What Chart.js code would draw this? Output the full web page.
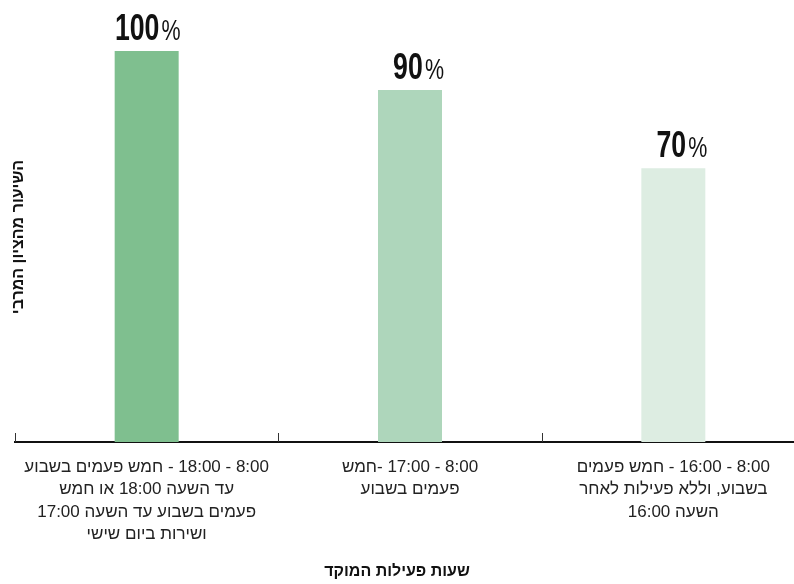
<!DOCTYPE html>
<html lang="he">
<head>
<meta charset="utf-8">
<title>שעות פעילות המוקד</title>
<script src="https://cdn.jsdelivr.net/npm/chart.js@4.4.1/dist/chart.umd.min.js"></script>
<style>
  html, body { margin: 0; padding: 0; background: #fff; overflow: hidden; }
  #wrap { width: 811px; height: 584px; }
  canvas { direction: rtl; }
</style>
</head>
<body>
<div id="wrap">
  <canvas id="chart" width="811" height="584" dir="rtl"></canvas>
</div>
<script>
// data
const categories = [
  ["8:00 - 18:00 - חמש פעמים בשבוע", "עד השעה 18:00 או חמש", "פעמים בשבוע עד השעה 17:00", "ושירות ביום שישי"],
  ["8:00 - 17:00 -חמש", "פעמים בשבוע"],
  ["8:00 - 16:00 - חמש פעמים", "בשבוע, וללא פעילות לאחר", "השעה 16:00"],
];
const scores = [100, 90, 70];
const barColors = ["#7fbf8f", "#aed6bb", "#ddede2"];
const xTitle = "שעות פעילות המוקד";
const yTitle = "השיעור מהציון המרבי";

const FONT = '"Liberation Sans", Arial, sans-serif';
const SQUEEZE = 0.74; // condensed look for the big value labels

// value labels, tick marks and axis titles
const extras = {
  id: "extras",
  afterDatasetsDraw(chart) {
    const ctx = chart.ctx;
    const meta = chart.getDatasetMeta(0);
    meta.data.forEach((bar, i) => {
      const right = bar.x + bar.width / 2 + 2;
      const baseY = bar.y - 11;
      ctx.save();
      ctx.direction = "ltr";
      ctx.fillStyle = "#111";
      ctx.textBaseline = "alphabetic";
      ctx.translate(right, baseY);
      ctx.scale(SQUEEZE, 1);
      ctx.font = "29px " + FONT;
      const pctW = ctx.measureText("%").width;
      ctx.textAlign = "right";
      ctx.fillText("%", 0, 0);
      ctx.font = "bold 36px " + FONT;
      ctx.fillText(String(scores[i]), -pctW - 3, 0);
      ctx.restore();
    });
  },
  afterDraw(chart) {
    const ctx = chart.ctx;
    const x = chart.scales.x;
    const area = chart.chartArea;
    const step = x.getPixelForValue(1) - x.getPixelForValue(0);

    // small upward ticks between the categories
    ctx.save();
    ctx.strokeStyle = "#333";
    ctx.lineWidth = 1;
    for (let i = 0; i <= categories.length; i++) {
      const px = Math.round(x.getPixelForValue(0) - step / 2 + i * step) + 0.5;
      ctx.beginPath();
      ctx.moveTo(px, area.bottom - 9);
      ctx.lineTo(px, area.bottom);
      ctx.stroke();
    }

    // axis titles
    ctx.fillStyle = "#111";
    ctx.font = "bold 16px " + FONT;
    ctx.textAlign = "center";
    ctx.textBaseline = "middle";
    ctx.fillText(xTitle, 397, 572);

    ctx.translate(19, 237);
    ctx.rotate(-Math.PI / 2);
    ctx.fillText(yTitle, 0, 0);
    ctx.restore();
  }
};

new Chart(document.getElementById("chart"), {
  type: "bar",
  data: {
    labels: categories,
    datasets: [{
      data: scores,
      backgroundColor: barColors,
      borderWidth: 0,
      categoryPercentage: 1,
      barPercentage: 0.243,
    }],
  },
  options: {
    responsive: false,
    animation: false,
    events: [],
    layout: { padding: { left: 15, top: 51, right: 6, bottom: 0 } },
    plugins: {
      legend: { display: false },
      tooltip: { enabled: false },
    },
    scales: {
      x: {
        grid: { display: false, drawTicks: false },
        border: { display: true, color: "#111", width: 2 },
        ticks: {
          color: "#222",
          padding: 14,
          maxRotation: 0,
          autoSkip: false,
          font: { family: FONT, size: 17, lineHeight: 1.32 },
        },
        afterFit(scale) { scale.height = 142; },
      },
      y: {
        display: false,
        min: 0,
        max: 100,
      },
    },
  },
  plugins: [extras],
});
</script>
</body>
</html>
